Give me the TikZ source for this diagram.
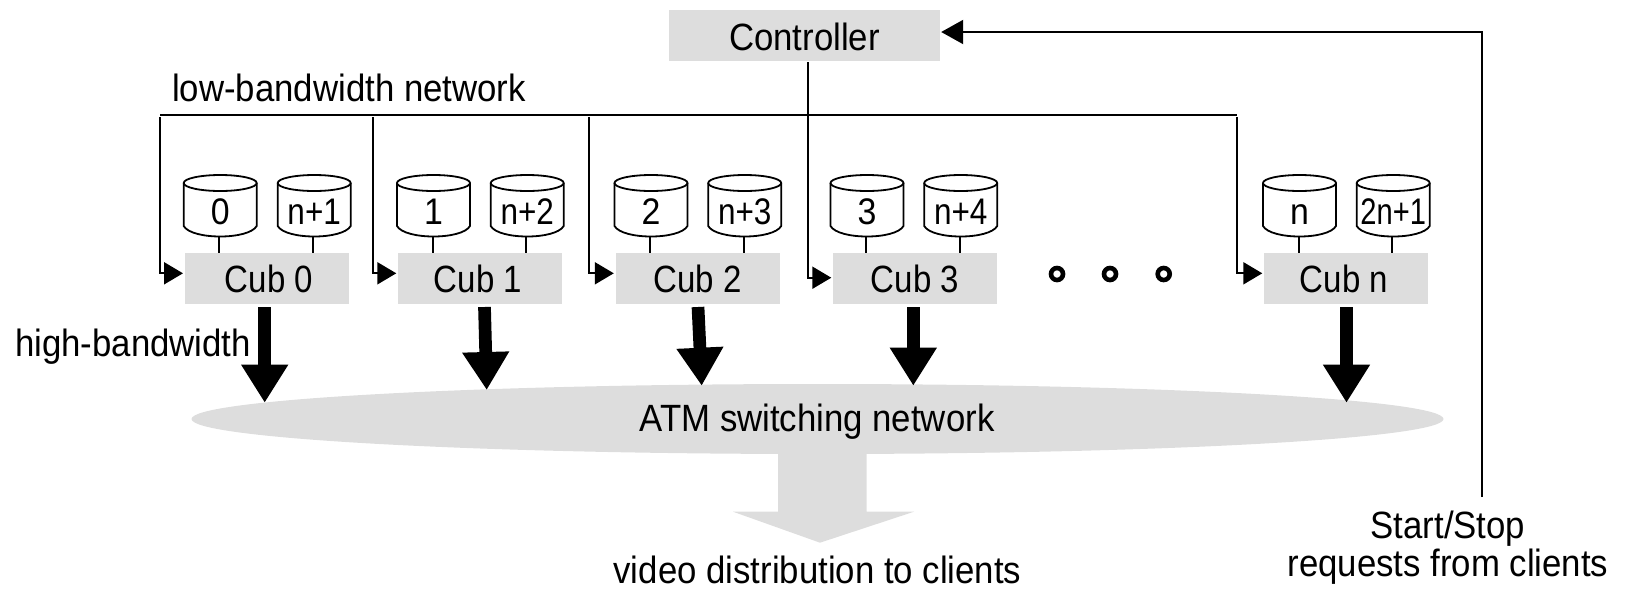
\documentclass[tikz,border=0pt]{standalone}
\usepackage{graphicx}
\usepackage{fontspec}
\setmainfont[FakeStretch=0.915]{Liberation Sans}
\usetikzlibrary{arrows.meta}
\definecolor{boxgray}{RGB}{221,221,221}
\tikzset{
  x=1pt,y=-1pt,
  txt/.style={inner sep=0pt,font=\fontsize{38}{42}\selectfont,text=black},
  disktxt/.style={inner sep=0pt,font=\fontsize{37}{40}\selectfont,text=black},
  grayrect/.style={fill=boxgray,draw=none,inner sep=0pt,minimum width=164pt,minimum height=50.5pt},
  thin line/.style={draw=black,line width=2pt},
  bigarrow/.style={draw=black,line width=12.7pt,-{Triangle[length=38pt,width=44.4pt]}},
  diskline/.style={draw=black,line width=1.8pt,line join=round}
}
\newcommand{\mydisk}[3]{%
  \path[diskline,fill=white] (#2,183) -- (#2,226) .. controls (#2+8,240) and (#2+65,240) .. (#2+73,226) -- (#2+73,183);
  \path[diskline] (#2+36.5,183) ellipse [x radius=36.5pt,y radius=8pt];
  \node[disktxt,anchor=base] (#1) at (#2+36.5,224) {#3};
  \coordinate (#1b) at (#2+35.5,236);
}
\newcommand{\nk}[1]{\scalebox{.93}[1]{#1}}
\begin{document}
\begin{tikzpicture}
\useasboundingbox (0,0) rectangle (1625,590);
% gray shapes
\fill[boxgray] (817.5,419) ellipse [x radius=626pt,y radius=35pt];
\fill[boxgray] (778,450) -- (778,511.7) -- (733,511.7) -- (820,542.7) -- (914,511.7) -- (866.7,511.7) -- (866.7,450) -- cycle;
\node[grayrect,minimum width=271pt,minimum height=51pt] (ctrl) at (804.5,35.5) {};
\node[txt,anchor=base] (ctrltxt) at (804.5,50) {Controller};
\foreach \nm/\xx/\tx/\lb in {cub0/266.7/269/Cub 0,cub1/480/478/Cub 1,cub2/697.5/697.5/Cub 2,cub3/915/915/Cub 3,cubn/1346/1344/Cub n}{
  \node[grayrect] (\nm) at (\xx,278.5) {};
  \node[txt,anchor=base] (\nm t) at (\tx,292.7) {\scalebox{.95}[1]{\lb}};
}
% disks
\mydisk{d0}{183.7}{0}
\mydisk{d1}{277.7}{\nk{n+1}}
\mydisk{d2}{397}{1}
\mydisk{d3}{490.7}{\nk{n+2}}
\mydisk{d4}{614.5}{2}
\mydisk{d5}{708.2}{\nk{n+3}}
\mydisk{d6}{830.5}{3}
\mydisk{d7}{924.2}{\nk{n+4}}
\mydisk{d8}{1263}{n}
\mydisk{d9}{1356.7}{\scalebox{.86}[1]{2n+1}}
\foreach \d/\c in {d0/cub0,d1/cub0,d2/cub1,d3/cub1,d4/cub2,d5/cub2,d6/cub3,d7/cub3,d8/cubn,d9/cubn}{
  \draw[thin line] (\d b) -- (\d b |- \c.north);
}
% bus
\coordinate (busl) at (160,115.3);
\coordinate (busr) at (1237.3,115.3);
\draw[draw=black,line width=2.3pt] (busl) -- (busr);
\coordinate (b0) at (160,117);
\coordinate (b1) at (373.3,117);
\coordinate (b2) at (588.7,117);
\coordinate (b3) at (808.3,62);
\coordinate (bn) at (1237.3,117);
\foreach \b/\c/\y in {b0/cub0/273.3,b1/cub1/273.3,b2/cub2/273.3,b3/cub3/277.7,bn/cubn/273.3}{
  \draw[thin line,-{Triangle[length=19pt,width=22pt]}] (\b) |- ([xshift=-1.5pt]\c.west |- 0,\y);
}
% big arrows
\coordinate (a0) at (264.7,307); \coordinate (a0e) at (264.7,402.7);
\coordinate (a1) at (484.5,307); \coordinate (a1e) at (486.7,390);
\coordinate (a2) at (698,307); \coordinate (a2e) at (701.7,385.7);
\coordinate (a3) at (913.3,307); \coordinate (a3e) at (913.3,385.7);
\coordinate (an) at (1346.5,307); \coordinate (ane) at (1346.5,402.7);
\foreach \s/\e in {a0/a0e,a1/a1e,a2/a2e,a3/a3e,an/ane}{
  \draw[bigarrow] (\s) -- (\e);
}
% dots
\foreach \xx/\nm in {1057/p1,1110/p2,1163.7/p3}{
  \node[circle,draw=black,line width=4.6pt,fill=white,minimum size=12pt,inner sep=0pt] (\nm) at (\xx,274) {};
}
% requests
\coordinate (req) at (1482,497);
\draw[thin line,-{Triangle[length=22pt,width=24pt]}] (req) |- ([xshift=1pt]ctrl.east |- 0,32);
% labels
\node[txt,anchor=base west] (lbn) at (172,101.5) {low-bandwidth network};
\node[txt,anchor=base west] (hbw) at (15,356) {high-bandwidth};
\node[txt,anchor=base] (atm) at (817,431) {ATM switching network};
\node[txt,anchor=base] (vid) at (817.5,583) {video distribution to clients};
\node[txt,anchor=base] (ss) at (1448,538) {Start/Stop};
\node[txt,anchor=base] (rq) at (1448,576) {requests from clients};
\end{tikzpicture}
\end{document}
